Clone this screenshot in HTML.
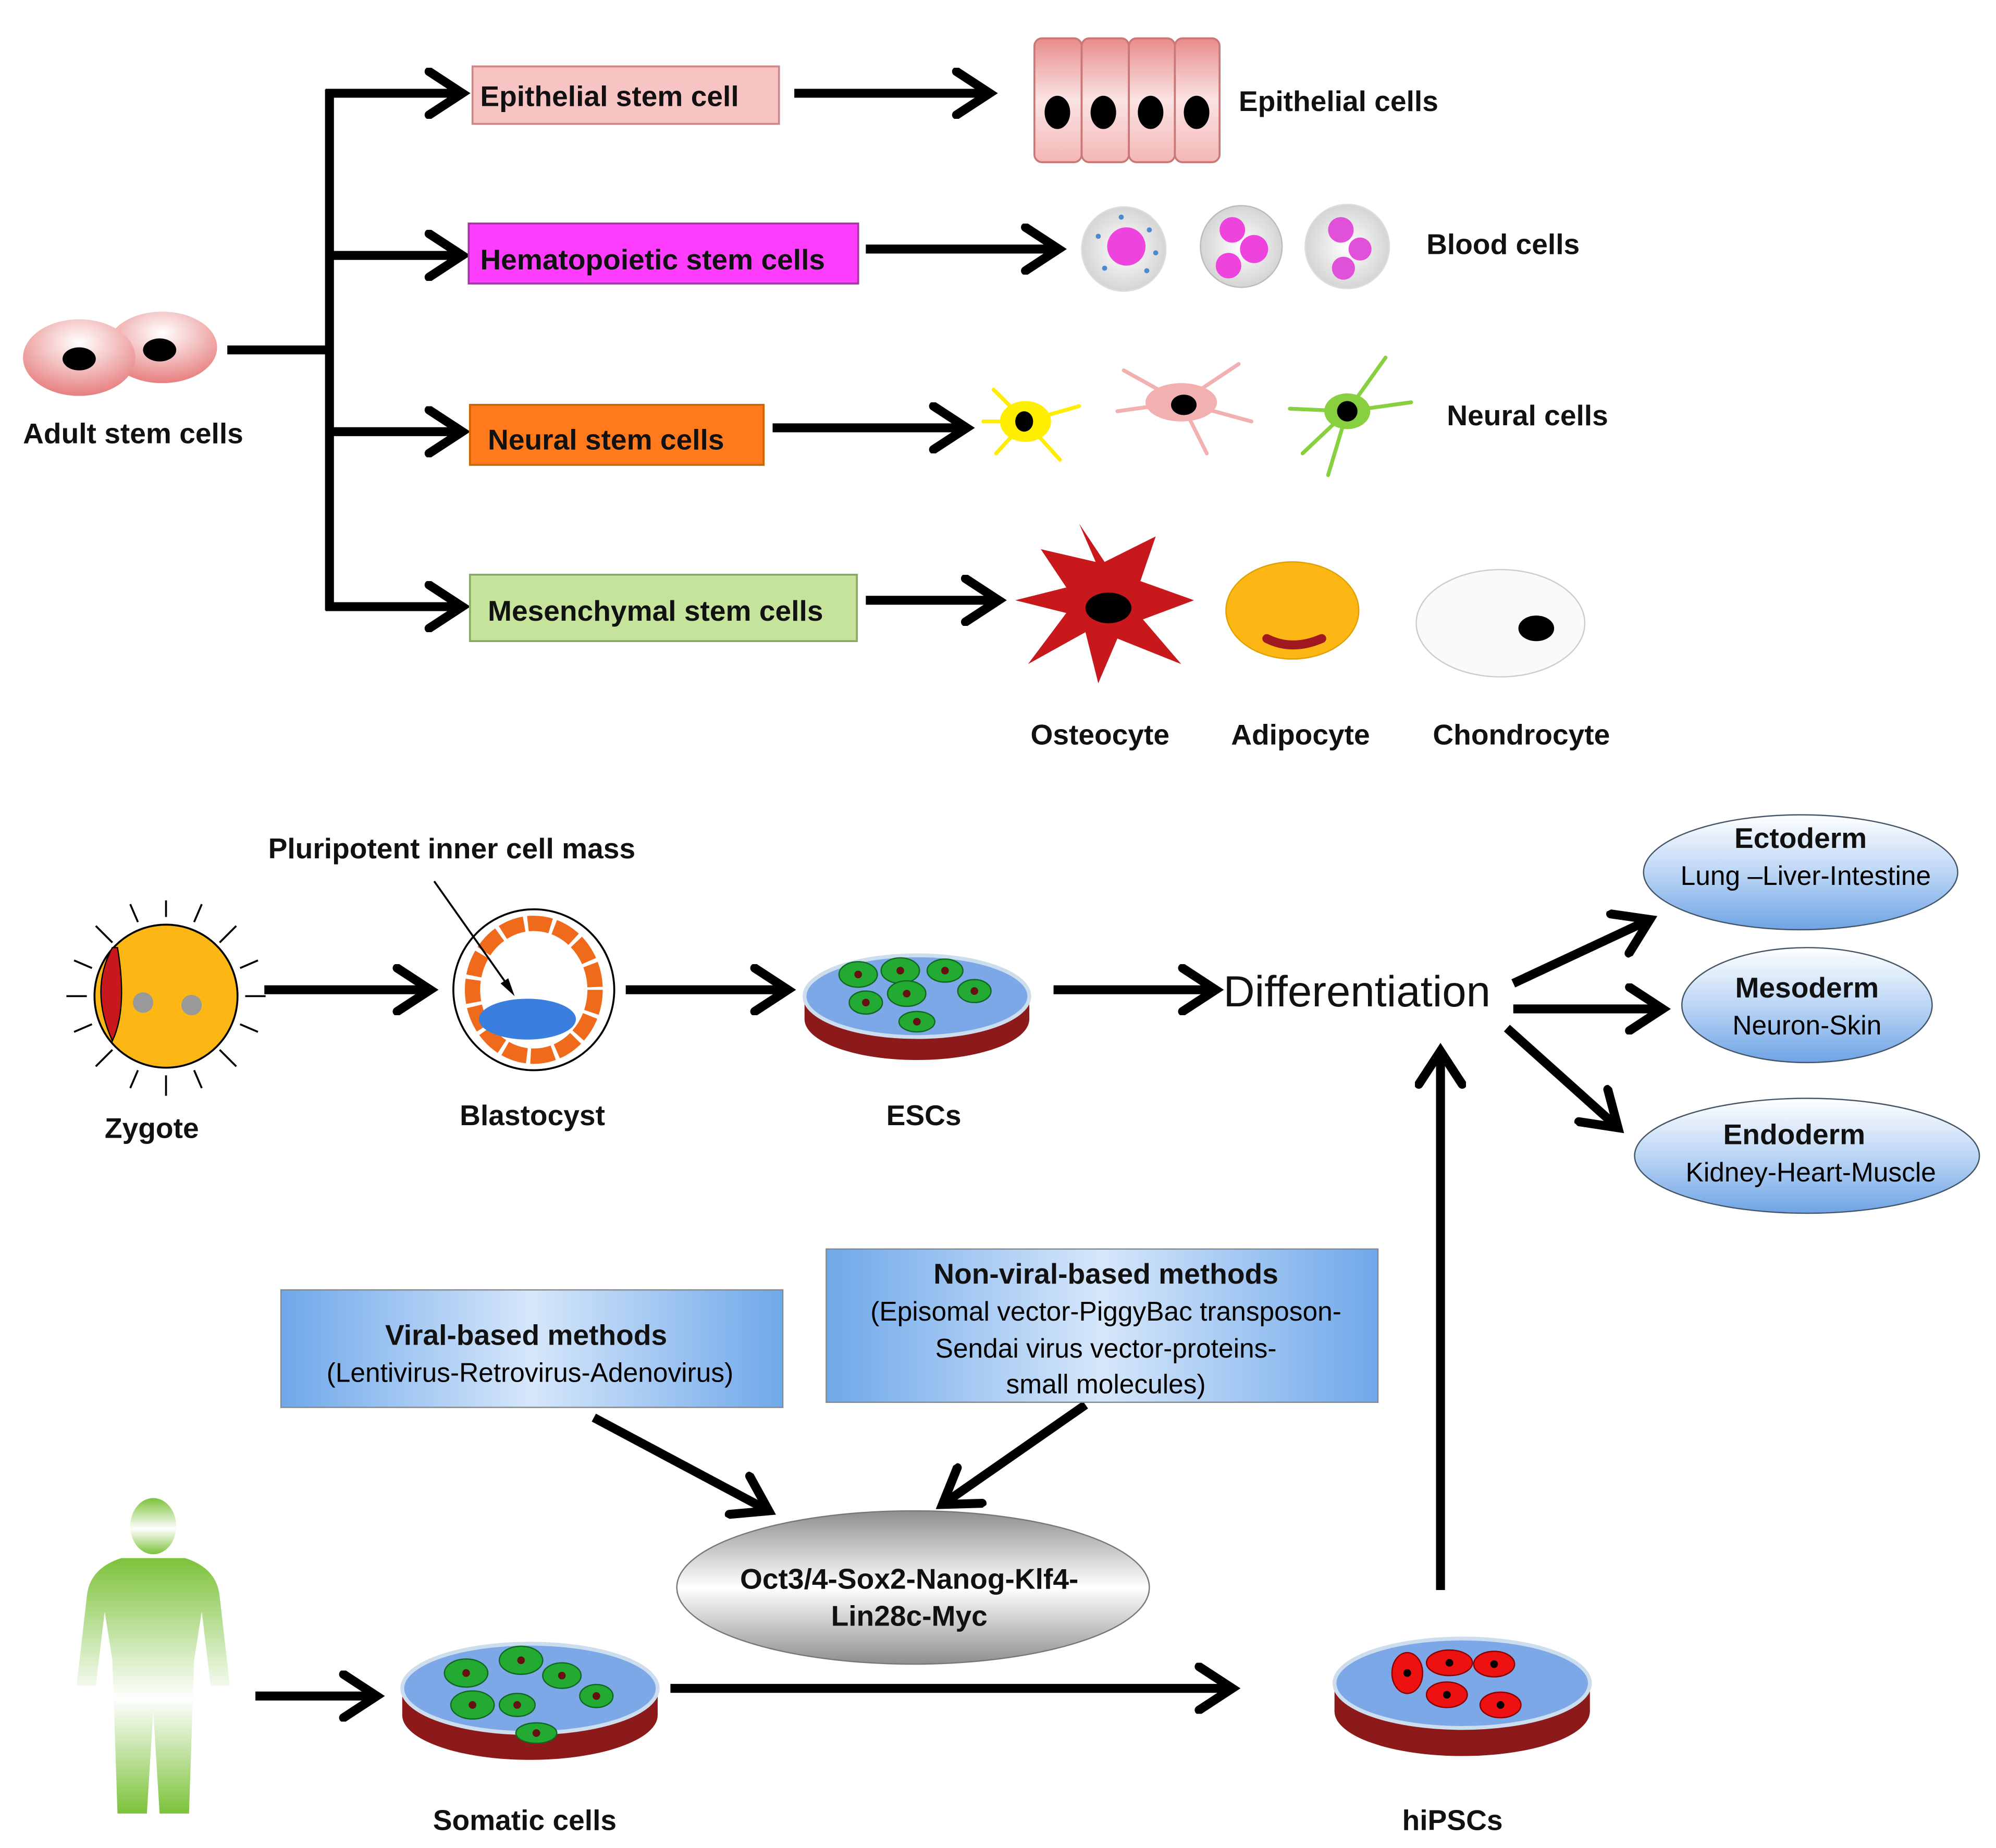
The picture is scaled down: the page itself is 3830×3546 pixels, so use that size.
<!DOCTYPE html>
<html><head><meta charset="utf-8"><style>
html,body{margin:0;padding:0;background:#fff;}
svg{display:block;}
text{font-family:"Liberation Sans",Arial,sans-serif;}
.b{font-weight:bold;font-size:22.5px;fill:#111;}
.n{font-size:21px;}
</style></head><body>
<svg xmlns="http://www.w3.org/2000/svg" width="3830" height="3546" viewBox="0 0 1563 1447" preserveAspectRatio="none">
<defs>
<marker id="ah" markerUnits="userSpaceOnUse" markerWidth="40" markerHeight="40" viewBox="-30 -20 40 40" refX="0" refY="0" orient="auto">
<polyline points="-26,-17 0,0 -26,17" fill="none" stroke="#000" stroke-width="7" stroke-linecap="round" stroke-linejoin="miter"/>
</marker>
<radialGradient id="pk" cx="50%" cy="30%" r="70%"><stop offset="0" stop-color="#fff"/><stop offset="1" stop-color="#e77f7f"/></radialGradient>
<linearGradient id="ep" x1="0" y1="0" x2="0" y2="1"><stop offset="0" stop-color="#e88c8c"/><stop offset="0.5" stop-color="#fbe3e3"/><stop offset="1" stop-color="#f4b6b6"/></linearGradient>
<linearGradient id="bl" x1="0" y1="0" x2="0" y2="1"><stop offset="0" stop-color="#fff"/><stop offset="0.5" stop-color="#bcd6f5"/><stop offset="1" stop-color="#6fa4e6"/></linearGradient>
<linearGradient id="bx" x1="0" y1="0" x2="1" y2="0"><stop offset="0" stop-color="#6fa8ea"/><stop offset="0.5" stop-color="#d6e7fa"/><stop offset="1" stop-color="#6fa8ea"/></linearGradient>
<linearGradient id="gr" x1="0" y1="0" x2="0" y2="1"><stop offset="0" stop-color="#8f8f8f"/><stop offset="0.5" stop-color="#fff"/><stop offset="1" stop-color="#8f8f8f"/></linearGradient>
<linearGradient id="hm" x1="0" y1="0" x2="0" y2="1"><stop offset="0" stop-color="#7cc23a"/><stop offset="0.55" stop-color="#ffffff"/><stop offset="1" stop-color="#7cc23a"/></linearGradient>
<radialGradient id="gc" cx="50%" cy="50%" r="60%"><stop offset="0" stop-color="#fff"/><stop offset="1" stop-color="#ccc"/></radialGradient>
</defs>
<g stroke="#000" stroke-width="7" fill="none">
<line x1="178" y1="274" x2="258" y2="274"/>
<line x1="258" y1="70" x2="258" y2="478"/>
<line x1="255" y1="73" x2="362" y2="73" marker-end="url(#ah)"/>
<line x1="255" y1="200" x2="362" y2="200" marker-end="url(#ah)"/>
<line x1="255" y1="338" x2="362" y2="338" marker-end="url(#ah)"/>
<line x1="255" y1="475" x2="362" y2="475" marker-end="url(#ah)"/>
<line x1="622" y1="73" x2="775" y2="73" marker-end="url(#ah)"/>
<line x1="678" y1="195" x2="829" y2="195" marker-end="url(#ah)"/>
<line x1="605" y1="335" x2="757" y2="335" marker-end="url(#ah)"/>
<line x1="678" y1="470" x2="782" y2="470" marker-end="url(#ah)"/>
<line x1="207" y1="775" x2="337" y2="775" marker-end="url(#ah)"/>
<line x1="490" y1="775" x2="617" y2="775" marker-end="url(#ah)"/>
<line x1="825" y1="775" x2="952" y2="775" marker-end="url(#ah)"/>
<line x1="1185" y1="770" x2="1292" y2="720" marker-end="url(#ah)"/>
<line x1="1185" y1="790" x2="1302" y2="790" marker-end="url(#ah)"/>
<line x1="1180" y1="805" x2="1267" y2="883" marker-end="url(#ah)"/>
<line x1="465" y1="1110" x2="602" y2="1183" marker-end="url(#ah)"/>
<line x1="850" y1="1100" x2="738" y2="1178" marker-end="url(#ah)"/>
<line x1="200" y1="1328" x2="295" y2="1328" marker-end="url(#ah)"/>
<line x1="525" y1="1322" x2="965" y2="1322" marker-end="url(#ah)"/>
<line x1="1128" y1="1245" x2="1128" y2="823" marker-end="url(#ah)"/>
</g>
<ellipse cx="127" cy="272" rx="43" ry="28" fill="url(#pk)"/>
<ellipse cx="62" cy="280" rx="44" ry="30" fill="url(#pk)"/>
<ellipse cx="62" cy="281" rx="13" ry="9"/>
<ellipse cx="125" cy="274" rx="13" ry="9"/>
<text x="18" y="347" class="b">Adult stem cells</text>
<rect x="370" y="52" width="240" height="45" fill="#f7c3c3" stroke="#c88" stroke-width="1.5"/>
<text x="376" y="83" class="b">Epithelial stem cell</text>
<rect x="367" y="175" width="305" height="47" fill="#ff3dff" stroke="#a3a" stroke-width="1.5"/>
<text x="376" y="211" class="b">Hematopoietic stem cells</text>
<rect x="368" y="317" width="230" height="47" fill="#ff7a1c" stroke="#c60" stroke-width="1.5"/>
<text x="382" y="352" class="b">Neural stem cells</text>
<rect x="368" y="450" width="303" height="52" fill="#c6e39c" stroke="#8a6" stroke-width="1.5"/>
<text x="382" y="486" class="b">Mesenchymal stem cells</text>
<g stroke="#c77" stroke-width="1.5" fill="url(#ep)">
<rect x="810" y="30" width="37" height="97" rx="6"/><rect x="847" y="30" width="37" height="97" rx="6"/>
<rect x="884" y="30" width="36" height="97" rx="6"/><rect x="920" y="30" width="35" height="97" rx="6"/>
</g>
<ellipse cx="828" cy="88" rx="10" ry="13"/><ellipse cx="864" cy="88" rx="10" ry="13"/>
<ellipse cx="901" cy="88" rx="10" ry="13"/><ellipse cx="937" cy="88" rx="10" ry="13"/>
<text x="970" y="87" class="b">Epithelial cells</text>
<circle cx="880" cy="195" r="33" fill="url(#gc)" stroke="#ddd"/>
<circle cx="882" cy="193" r="15" fill="#ee44dd"/>
<g fill="#4a8ad0"><circle cx="860" cy="185" r="2"/><circle cx="900" cy="180" r="2"/><circle cx="865" cy="210" r="2"/><circle cx="898" cy="212" r="2"/><circle cx="878" cy="170" r="2"/><circle cx="905" cy="198" r="2"/></g>
<circle cx="972" cy="193" r="32" fill="url(#gc)" stroke="#bbb"/>
<g fill="#ee44dd"><circle cx="965" cy="180" r="10"/><circle cx="982" cy="195" r="11"/><circle cx="962" cy="208" r="10"/></g>
<circle cx="1055" cy="193" r="33" fill="url(#gc)" stroke="#ddd"/>
<g fill="#e050d8"><circle cx="1050" cy="180" r="10"/><circle cx="1065" cy="195" r="9"/><circle cx="1052" cy="210" r="9"/></g>
<text x="1117" y="199" class="b">Blood cells</text>
<g stroke-width="3" stroke-linecap="round">
<g stroke="#ffee00"><line x1="803" y1="330" x2="778" y2="305"/><line x1="803" y1="330" x2="845" y2="318"/><line x1="803" y1="330" x2="780" y2="355"/><line x1="803" y1="330" x2="830" y2="360"/><line x1="803" y1="330" x2="770" y2="330"/></g>
<g stroke="#f2b0b0"><line x1="925" y1="315" x2="880" y2="290"/><line x1="925" y1="315" x2="970" y2="285"/><line x1="925" y1="315" x2="945" y2="355"/><line x1="925" y1="315" x2="980" y2="330"/><line x1="925" y1="315" x2="875" y2="322"/></g>
<g stroke="#88d040"><line x1="1055" y1="322" x2="1010" y2="320"/><line x1="1055" y1="322" x2="1085" y2="280"/><line x1="1055" y1="322" x2="1040" y2="372"/><line x1="1055" y1="322" x2="1105" y2="315"/><line x1="1055" y1="322" x2="1020" y2="355"/></g>
</g>
<ellipse cx="803" cy="330" rx="20" ry="16" fill="#ffee00"/><ellipse cx="802" cy="330" rx="7" ry="8"/>
<ellipse cx="925" cy="315" rx="28" ry="15" fill="#f2b0b0"/><ellipse cx="927" cy="317" rx="10" ry="8"/>
<ellipse cx="1055" cy="322" rx="18" ry="14" fill="#88d040"/><circle cx="1055" cy="322" r="8"/>
<text x="1133" y="333" class="b">Neural cells</text>
<path d="M865 440 L845 410 L858 440 L815 430 L835 460 L795 470 L835 480 L805 520 L850 495 L860 535 L875 500 L925 520 L895 485 L935 470 L893 455 L905 420 Z" fill="#c8181b"/>
<ellipse cx="868" cy="476" rx="18" ry="12"/>
<ellipse cx="1012" cy="478" rx="52" ry="38" fill="#fdb714" stroke="#e0a000"/>
<path d="M992 500 Q1012 510 1035 500" stroke="#a01820" stroke-width="7" fill="none" stroke-linecap="round"/>
<ellipse cx="1175" cy="488" rx="66" ry="42" fill="#fafafa" stroke="#ccc"/>
<ellipse cx="1203" cy="492" rx="14" ry="10"/>
<text x="807" y="583" class="b">Osteocyte</text>
<text x="964" y="583" class="b">Adipocyte</text>
<text x="1122" y="583" class="b">Chondrocyte</text>
<g stroke="#000" stroke-width="1.5">
<line x1="130" y1="718" x2="130" y2="705"/><line x1="130" y1="842" x2="130" y2="858"/><line x1="68" y1="780" x2="52" y2="780"/><line x1="192" y1="780" x2="208" y2="780"/>
<line x1="88" y1="738" x2="75" y2="725"/><line x1="172" y1="738" x2="185" y2="725"/><line x1="88" y1="822" x2="75" y2="835"/><line x1="172" y1="822" x2="185" y2="835"/>
<line x1="108" y1="722" x2="102" y2="708"/><line x1="152" y1="722" x2="158" y2="708"/><line x1="108" y1="838" x2="102" y2="852"/><line x1="152" y1="838" x2="158" y2="852"/>
<line x1="72" y1="758" x2="58" y2="752"/><line x1="188" y1="758" x2="202" y2="752"/><line x1="72" y1="802" x2="58" y2="808"/><line x1="188" y1="802" x2="202" y2="808"/>
</g>
<circle cx="130" cy="780" r="56" fill="#fdb714" stroke="#000" stroke-width="1.5"/>
<path d="M88 742 Q70 775 88 815 Q100 790 92 742 Z" fill="#c8181b" stroke="#000"/>
<circle cx="112" cy="785" r="8" fill="#999"/><circle cx="150" cy="787" r="8" fill="#999"/>
<text x="82" y="891" class="b">Zygote</text>
<circle cx="418" cy="775" r="63" fill="#fff" stroke="#000" stroke-width="1.5"/>
<ellipse cx="418" cy="775" rx="48" ry="52" fill="none" stroke="#f06a1c" stroke-width="12" stroke-dasharray="18 3"/>
<ellipse cx="413" cy="798" rx="38" ry="16" fill="#3a7fe0"/>
<line x1="340" y1="690" x2="400" y2="775" stroke="#000" stroke-width="1.5"/>
<polygon points="403,780 392,770 398,766" fill="#000"/>
<text x="210" y="672" class="b">Pluripotent inner cell mass</text>
<text x="360" y="881" class="b">Blastocyst</text>
<ellipse cx="718" cy="798" rx="88" ry="32" fill="#8c1a1a"/>
<rect x="630" y="780" width="176" height="18" fill="#8c1a1a"/>
<ellipse cx="718" cy="780" rx="88" ry="32" fill="#7da8e8" stroke="#cde" stroke-width="3"/>
<g fill="#22aa33" stroke="#116622"><ellipse cx="672" cy="763" rx="15" ry="10"/><ellipse cx="705" cy="760" rx="15" ry="10"/><ellipse cx="740" cy="760" rx="14" ry="9"/><ellipse cx="710" cy="778" rx="15" ry="10"/><ellipse cx="763" cy="776" rx="13" ry="9"/><ellipse cx="678" cy="785" rx="13" ry="9"/><ellipse cx="718" cy="800" rx="14" ry="8"/></g>
<g fill="#611"><circle cx="672" cy="763" r="3"/><circle cx="705" cy="760" r="3"/><circle cx="740" cy="760" r="3"/><circle cx="710" cy="778" r="3"/><circle cx="763" cy="776" r="3"/><circle cx="678" cy="785" r="3"/><circle cx="718" cy="800" r="3"/></g>
<text x="694" y="881" class="b">ESCs</text>
<text x="958" y="788" style="font-size:34px;fill:#111;">Differentiation</text>
<ellipse cx="1410" cy="683" rx="123" ry="45" fill="url(#bl)" stroke="#456" stroke-width="1"/>
<text x="1410" y="664" text-anchor="middle" class="b">Ectoderm</text>
<text x="1414" y="693" text-anchor="middle" class="n">Lung –Liver-Intestine</text>
<ellipse cx="1415" cy="787" rx="98" ry="45" fill="url(#bl)" stroke="#456" stroke-width="1"/>
<text x="1415" y="781" text-anchor="middle" class="b">Mesoderm</text>
<text x="1415" y="810" text-anchor="middle" class="n">Neuron-Skin</text>
<ellipse cx="1415" cy="905" rx="135" ry="45" fill="url(#bl)" stroke="#456" stroke-width="1"/>
<text x="1405" y="896" text-anchor="middle" class="b">Endoderm</text>
<text x="1418" y="925" text-anchor="middle" class="n">Kidney-Heart-Muscle</text>
<rect x="220" y="1010" width="393" height="92" fill="url(#bx)" stroke="#888"/>
<text x="412" y="1053" text-anchor="middle" class="b">Viral-based methods</text>
<text x="415" y="1082" text-anchor="middle" class="n">(Lentivirus-Retrovirus-Adenovirus)</text>
<rect x="647" y="978" width="432" height="120" fill="url(#bx)" stroke="#888"/>
<text x="866" y="1005" text-anchor="middle" class="b">Non-viral-based methods</text>
<text x="866" y="1034" text-anchor="middle" class="n">(Episomal vector-PiggyBac transposon-</text>
<text x="866" y="1063" text-anchor="middle" class="n">Sendai virus vector-proteins-</text>
<text x="866" y="1091" text-anchor="middle" class="n">small molecules)</text>
<ellipse cx="715" cy="1243" rx="185" ry="60" fill="url(#gr)" stroke="#777"/>
<text x="712" y="1244" text-anchor="middle" class="b">Oct3/4-Sox2-Nanog-Klf4-</text>
<text x="712" y="1273" text-anchor="middle" class="b">Lin28c-Myc</text>
<g fill="url(#hm)">
<ellipse cx="120" cy="1195" rx="18" ry="22"/>
<path d="M95 1220 L145 1220 Q170 1228 172 1250 L180 1320 L165 1320 L158 1262 L152 1300 L148 1420 L125 1420 L120 1340 L115 1420 L92 1420 L88 1300 L82 1262 L75 1320 L60 1320 L68 1250 Q70 1228 95 1220 Z"/>
</g>
<ellipse cx="415" cy="1343" rx="100" ry="35" fill="#8c1a1a"/>
<rect x="315" y="1322" width="200" height="21" fill="#8c1a1a"/>
<ellipse cx="415" cy="1322" rx="100" ry="35" fill="#7da8e8" stroke="#cde" stroke-width="3"/>
<g fill="#22aa33" stroke="#116622"><ellipse cx="365" cy="1310" rx="17" ry="11"/><ellipse cx="408" cy="1300" rx="17" ry="11"/><ellipse cx="440" cy="1312" rx="15" ry="10"/><ellipse cx="370" cy="1335" rx="17" ry="11"/><ellipse cx="405" cy="1335" rx="14" ry="9"/><ellipse cx="467" cy="1328" rx="13" ry="9"/><ellipse cx="420" cy="1357" rx="16" ry="8"/></g>
<g fill="#611"><circle cx="365" cy="1310" r="3"/><circle cx="408" cy="1300" r="3"/><circle cx="440" cy="1312" r="3"/><circle cx="370" cy="1335" r="3"/><circle cx="405" cy="1335" r="3"/><circle cx="467" cy="1328" r="3"/><circle cx="420" cy="1357" r="3"/></g>
<text x="339" y="1433" class="b">Somatic cells</text>
<ellipse cx="1145" cy="1340" rx="100" ry="35" fill="#8c1a1a"/>
<rect x="1045" y="1318" width="200" height="22" fill="#8c1a1a"/>
<ellipse cx="1145" cy="1318" rx="100" ry="35" fill="#7da8e8" stroke="#cde" stroke-width="3"/>
<g fill="#ee1111" stroke="#880000"><ellipse cx="1102" cy="1310" rx="12" ry="16"/><ellipse cx="1135" cy="1302" rx="18" ry="10"/><ellipse cx="1170" cy="1303" rx="16" ry="10"/><ellipse cx="1133" cy="1327" rx="16" ry="10"/><ellipse cx="1175" cy="1335" rx="16" ry="10"/></g>
<g fill="#000"><circle cx="1102" cy="1310" r="3"/><circle cx="1135" cy="1302" r="3"/><circle cx="1170" cy="1303" r="3"/><circle cx="1133" cy="1327" r="3"/><circle cx="1175" cy="1335" r="3"/></g>
<text x="1098" y="1433" class="b">hiPSCs</text>
</svg>
</body></html>
